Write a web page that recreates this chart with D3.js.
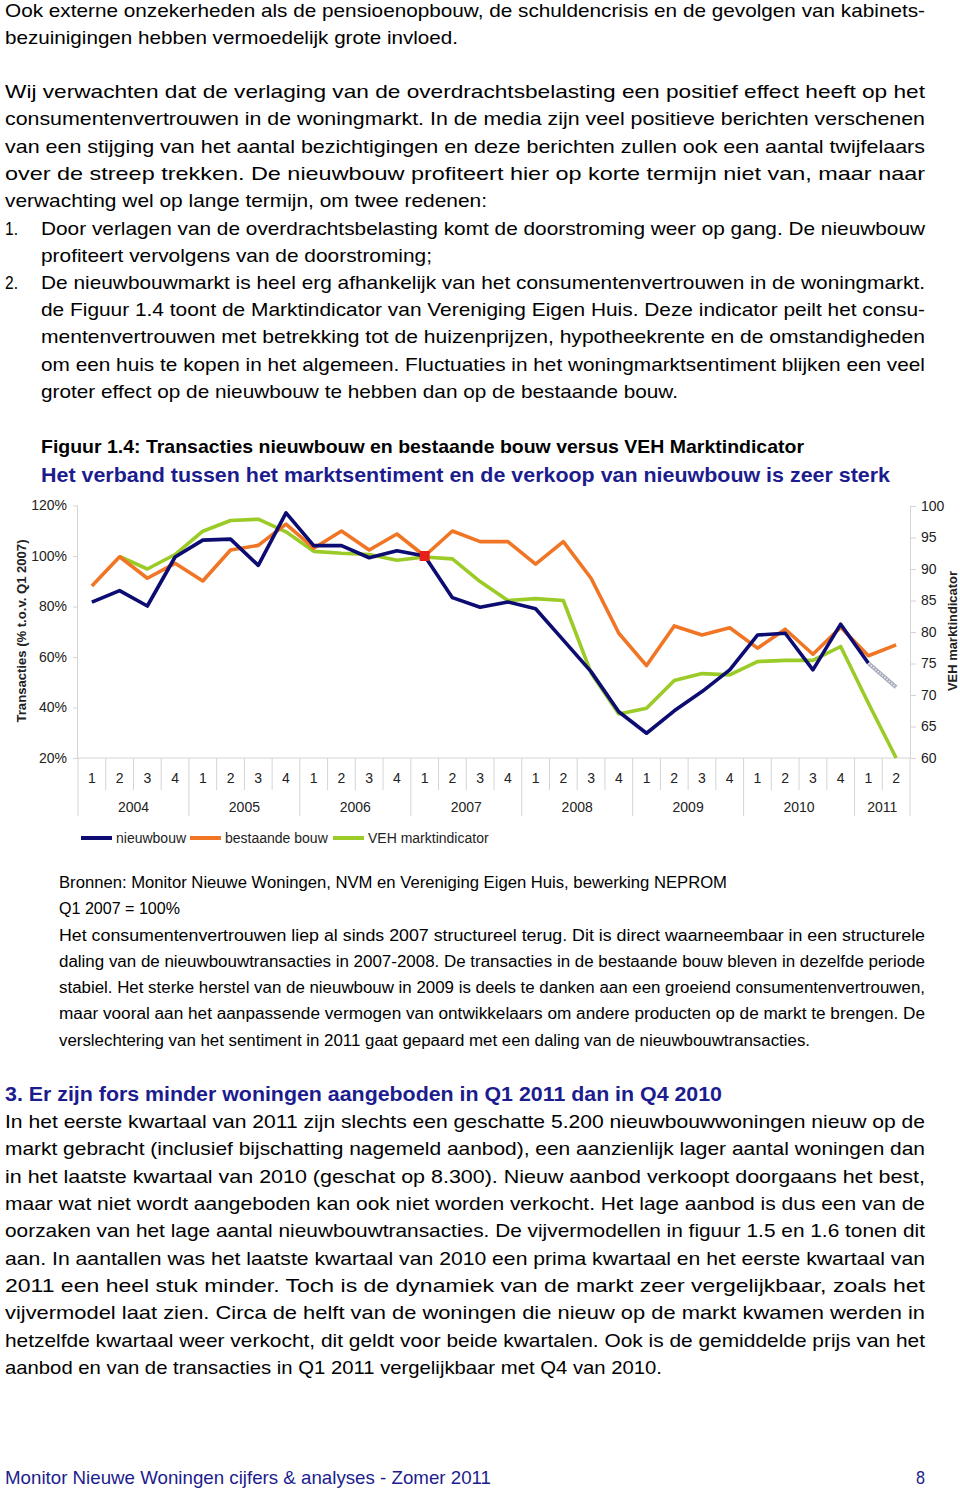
<!DOCTYPE html>
<html><head><meta charset="utf-8">
<script src="https://cdn.jsdelivr.net/npm/d3@7/dist/d3.min.js"></script>
<style>
html,body{margin:0;padding:0;background:#fff;}
svg{display:block;}
</style></head>
<body>
<svg id="page" width="960" height="1490"></svg>
<script>
// ---------- chart data ----------
const years = ["2004","2005","2006","2007","2008","2009","2010","2011"];
const quarterLabels = ["1","2","3","4","1","2","3","4","1","2","3","4","1","2","3","4","1","2","3","4","1","2","3","4","1","2","3","4","1","2"];
const quarterYear   = [0,0,0,0,1,1,1,1,2,2,2,2,3,3,3,3,4,4,4,4,5,5,5,5,6,6,6,6,7,7];
// Transacties nieuwbouw (% t.o.v. Q1 2007), 2004Q1..2011Q1
const nieuwbouw = [81.7,86.3,80.2,99.6,106.3,106.7,96.3,117.1,104.1,104.1,99.3,102.1,100,83.5,79.7,81.8,79.1,66.7,54.2,38.3,29.8,38.7,46.3,54.9,68.7,69.4,54.9,73.0,57.5];
// Raming nieuwbouw 2011Q1 -> 2011Q2 (grey)
const nieuwbouwRaming = [57.5,48.0];
// Transacties bestaande bouw (%), 2004Q1..2011Q2
const bestaandeBouw = [88.1,99.7,91.2,97.1,90.1,102.4,104.2,112.6,103.1,109.9,102.4,108.7,100,109.9,105.7,105.7,96.8,105.7,91.2,69.4,56.6,72.3,68.7,71.6,63.5,71.0,61.1,71.8,60.5,64.8];
// VEH marktindicator, 2004Q2..2011Q2
const veh = [92.0,90.0,92.3,96.0,97.7,97.9,95.9,92.8,92.5,92.3,91.4,91.9,91.6,88.0,85.0,85.3,85.0,73.5,67.0,67.9,72.3,73.4,73.2,75.3,75.5,75.5,77.7,68.7,60.0];
const leftTicks = [20,40,60,80,100,120];
const rightTicks = [60,65,70,75,80,85,90,95,100];
const seriesNames = ["nieuwbouw","bestaande bouw","VEH marktindicator"];
const seriesColors = ["#0c0c72","#f07524","#9bcb26"];

// ---------- page text ----------
const bodyFont = "'Liberation Sans Narrow','Liberation Sans',Arial,sans-serif";
const chartFont = "'Liberation Sans',Arial,sans-serif";
// [text, x0, x1, yCenter, style]
const lines = [
 ["Ook externe onzekerheden als de pensioenopbouw, de schuldencrisis en de gevolgen van kabinets-",5,925,10,"b"],
 ["bezuinigingen hebben vermoedelijk grote invloed.",5,458,37,"b"],
 ["Wij verwachten dat de verlaging van de overdrachtsbelasting een positief effect heeft op het",5,925,91,"b"],
 ["consumentenvertrouwen in de woningmarkt. In de media zijn veel positieve berichten verschenen",5,925,118,"b"],
 ["van een stijging van het aantal bezichtigingen en deze berichten zullen ook een aantal twijfelaars",5,925,146,"b"],
 ["over de streep trekken. De nieuwbouw profiteert hier op korte termijn niet van, maar naar",5,925,173,"b"],
 ["verwachting wel op lange termijn, om twee redenen:",5,487,200,"b"],
 ["1.",5,18,228,"b"],
 ["Door verlagen van de overdrachtsbelasting komt de doorstroming weer op gang. De nieuwbouw",41,925,228,"b"],
 ["profiteert vervolgens van de doorstroming;",41,432,255,"b"],
 ["2.",5,18,282,"b"],
 ["De nieuwbouwmarkt is heel erg afhankelijk van het consumentenvertrouwen in de woningmarkt.",41,925,282,"b"],
 ["de Figuur 1.4 toont de Marktindicator van Vereniging Eigen Huis. Deze indicator peilt het consu-",41,925,309,"b"],
 ["mentenvertrouwen met betrekking tot de huizenprijzen, hypotheekrente en de omstandigheden",41,925,336,"b"],
 ["om een huis te kopen in het algemeen. Fluctuaties in het woningmarktsentiment blijken een veel",41,925,364,"b"],
 ["groter effect op de nieuwbouw te hebben dan op de bestaande bouw.",41,678,391,"b"],
 ["Figuur 1.4: Transacties nieuwbouw en bestaande bouw versus VEH Marktindicator",41,804,446,"fig"],
 ["Het verband tussen het marktsentiment en de verkoop van nieuwbouw is zeer sterk",41,890,475,"sub"],
 ["Bronnen: Monitor Nieuwe Woningen, NVM en Vereniging Eigen Huis, bewerking NEPROM",59,727,882,"n"],
 ["Q1 2007 = 100%",59,180,908,"n"],
 ["Het consumentenvertrouwen liep al sinds 2007 structureel terug. Dit is direct waarneembaar in een structurele",59,925,935,"n"],
 ["daling van de nieuwbouwtransacties in 2007-2008. De transacties in de bestaande bouw bleven in dezelfde periode",59,925,961,"n"],
 ["stabiel. Het sterke herstel van de nieuwbouw in 2009 is deels te danken aan een groeiend consumentenvertrouwen,",59,925,987,"n"],
 ["maar vooral aan het aanpassende vermogen van ontwikkelaars om andere producten op de markt te brengen. De",59,925,1013,"n"],
 ["verslechtering van het sentiment in 2011 gaat gepaard met een daling van de nieuwbouwtransacties.",59,810,1040,"n"],
 ["3. Er zijn fors minder woningen aangeboden in Q1 2011 dan in Q4 2010",5,722,1094,"h"],
 ["In het eerste kwartaal van 2011 zijn slechts een geschatte 5.200 nieuwbouwwoningen nieuw op de",5,925,1121,"b"],
 ["markt gebracht (inclusief bijschatting nagemeld aanbod), een aanzienlijk lager aantal woningen dan",5,925,1148,"b"],
 ["in het laatste kwartaal van 2010 (geschat op 8.300). Nieuw aanbod verkoopt doorgaans het best,",5,925,1176,"b"],
 ["maar wat niet wordt aangeboden kan ook niet worden verkocht. Het lage aanbod is dus een van de",5,925,1203,"b"],
 ["oorzaken van het lage aantal nieuwbouwtransacties. De vijvermodellen in figuur 1.5 en 1.6 tonen dit",5,925,1230,"b"],
 ["aan. In aantallen was het laatste kwartaal van 2010 een prima kwartaal en het eerste kwartaal van",5,925,1258,"b"],
 ["2011 een heel stuk minder. Toch is de dynamiek van de markt zeer vergelijkbaar, zoals het",5,925,1285,"b"],
 ["vijvermodel laat zien. Circa de helft van de woningen die nieuw op de markt kwamen werden in",5,925,1312,"b"],
 ["hetzelfde kwartaal weer verkocht, dit geldt voor beide kwartalen. Ook is de gemiddelde prijs van het",5,925,1340,"b"],
 ["aanbod en van de transacties in Q1 2011 vergelijkbaar met Q4 van 2010.",5,662,1367,"b"],
 ["Monitor Nieuwe Woningen cijfers & analyses - Zomer 2011",5,491,1477,"f"],
 ["8",916,925,1477,"f"]
];
const styles = {
  b:{size:19,weight:"normal",fill:"#000",off:6.5},
  n:{size:16,weight:"normal",fill:"#000",off:5.5},
  fig:{size:19,weight:"bold",fill:"#000",off:6.5},
  sub:{size:20.5,weight:"bold",fill:"#1c1c8e",off:7},
  h:{size:20,weight:"bold",fill:"#1c1c8e",off:7},
  f:{size:19,weight:"normal",fill:"#1c1c8e",off:6.5}
};

const svg = d3.select("#page");
svg.append("rect").attr("width",960).attr("height",1490).attr("fill","#fff");

svg.append("g").selectAll("text").data(lines).join("text")
  .attr("x",d=>d[1]).attr("y",d=>d[3]+styles[d[4]].off)
  .attr("font-family",bodyFont)
  .attr("font-size",d=>styles[d[4]].size)
  .attr("font-weight",d=>styles[d[4]].weight)
  .attr("fill",d=>styles[d[4]].fill)
  .attr("textLength",d=>d[2]-d[1])
  .attr("lengthAdjust","spacingAndGlyphs")
  .text(d=>d[0]);

// ---------- chart ----------
const X0 = 78, X1 = 910, YB = 758, YT = 505.5;
const x = d3.scaleBand().domain(d3.range(quarterLabels.length)).range([X0,X1]).padding(0);
const yL = d3.scaleLinear().domain([20,120]).range([YB,YT]);
const yR = d3.scaleLinear().domain([60,100]).range([YB,506]);
const cx = i => x(i)+x.bandwidth()/2;
const grid = "#d4d4d4";
const txt = "#222";

const g = svg.append("g");

// left axis
const la = g.append("g").attr("transform",`translate(${X0},0)`)
  .call(d3.axisLeft(yL).tickValues(leftTicks).tickSize(5).tickPadding(6).tickFormat(d=>d+"%"));
la.select(".domain").attr("stroke",grid).attr("d",`M-0.5,${YT}V${YB}`);
la.selectAll(".tick line").attr("stroke",grid);
la.selectAll(".tick text").attr("font-family",chartFont).attr("font-size",14).attr("fill",txt);

// right axis
const ra = g.append("g").attr("transform",`translate(${X1},0)`)
  .call(d3.axisRight(yR).tickValues(rightTicks).tickSize(6).tickPadding(5));
ra.select(".domain").attr("stroke",grid).attr("d",`M0.5,506V${YB}`);
ra.selectAll(".tick line").attr("stroke",grid);
ra.selectAll(".tick text").attr("font-family",chartFont).attr("font-size",14).attr("fill",txt);

// bottom baseline
g.append("line").attr("x1",X0).attr("x2",X1).attr("y1",YB).attr("y2",YB).attr("stroke",grid);

// category separators
const bounds = d3.range(quarterLabels.length+1);
g.selectAll("line.sep").data(bounds).join("line").attr("class","sep")
  .attr("x1",i=>i<quarterLabels.length? x(i):X1).attr("x2",i=>i<quarterLabels.length? x(i):X1)
  .attr("y1",YB).attr("y2",i=>(i===0||i===quarterLabels.length||quarterYear[i]!==quarterYear[i-1])?816:790)
  .attr("stroke",grid).attr("stroke-width",1);

g.selectAll("text.q").data(quarterLabels).join("text").attr("class","q")
  .attr("x",(d,i)=>cx(i)).attr("y",783).attr("text-anchor","middle")
  .attr("font-family",chartFont).attr("font-size",14).attr("fill",txt).text(d=>d);

g.selectAll("text.yr").data(years).join("text").attr("class","yr")
  .attr("x",(d,k)=>{const idx=quarterYear.map((v,i)=>v===k?i:-1).filter(i=>i>=0);
     return (x(idx[0])+x(idx[idx.length-1])+x.bandwidth())/2;})
  .attr("y",812).attr("text-anchor","middle")
  .attr("font-family",chartFont).attr("font-size",14).attr("fill",txt).text(d=>d);

// axis titles
g.append("text").attr("transform","translate(26,631) rotate(-90)").attr("text-anchor","middle")
  .attr("font-family",chartFont).attr("font-size",13).attr("font-weight","bold").attr("fill",txt)
  .attr("textLength",183).attr("lengthAdjust","spacingAndGlyphs")
  .text("Transacties (% t.o.v. Q1 2007)");
g.append("text").attr("transform","translate(957,631) rotate(-90)").attr("text-anchor","middle")
  .attr("font-family",chartFont).attr("font-size",13).attr("font-weight","bold").attr("fill",txt)
  .attr("textLength",120).attr("lengthAdjust","spacingAndGlyphs")
  .text("VEH marktindicator");

// lines
const lineL = d3.line().x(d=>cx(d.i)).y(d=>yL(d.v));
const lineR = d3.line().x(d=>cx(d.i)).y(d=>yR(d.v));
const sw = 3.6;
g.append("path").datum(veh.map((v,k)=>({i:k+1,v})))
  .attr("d",lineR).attr("fill","none").attr("stroke",seriesColors[2]).attr("stroke-width",sw).attr("stroke-linejoin","round");
g.append("path").datum(bestaandeBouw.map((v,i)=>({i,v})))
  .attr("d",lineL).attr("fill","none").attr("stroke",seriesColors[1]).attr("stroke-width",sw).attr("stroke-linejoin","round");
g.append("path").datum(nieuwbouw.map((v,i)=>({i,v})))
  .attr("d",lineL).attr("fill","none").attr("stroke",seriesColors[0]).attr("stroke-width",sw).attr("stroke-linejoin","round");
// raming (grey hatched)
const ram = nieuwbouwRaming.map((v,k)=>({i:nieuwbouw.length-1+k,v}));
g.append("path").datum(ram).attr("d",lineL).attr("fill","none").attr("stroke","#a4a8b8").attr("stroke-width",4);
g.append("path").datum(ram).attr("d",lineL).attr("fill","none").attr("stroke","#e6e6ee").attr("stroke-width",2).attr("stroke-dasharray","1.5,1.5");

// red marker at Q1 2007 = 100%
const refIdx = 12;
g.append("rect").attr("x",cx(refIdx)-5).attr("y",yL(100)-5).attr("width",10).attr("height",10).attr("fill","#e8201c");

// legend
const legX = [81,190,333];
const leg = g.selectAll("g.leg").data(seriesNames).join("g").attr("class","leg")
  .attr("transform",(d,i)=>`translate(${legX[i]},838)`);
leg.append("line").attr("x1",0).attr("x2",31).attr("stroke",(d,i)=>seriesColors[i]).attr("stroke-width",4);
leg.append("text").attr("x",35).attr("y",5).attr("font-family",chartFont).attr("font-size",14).attr("fill",txt).text(d=>d);
</script>
</body></html>
